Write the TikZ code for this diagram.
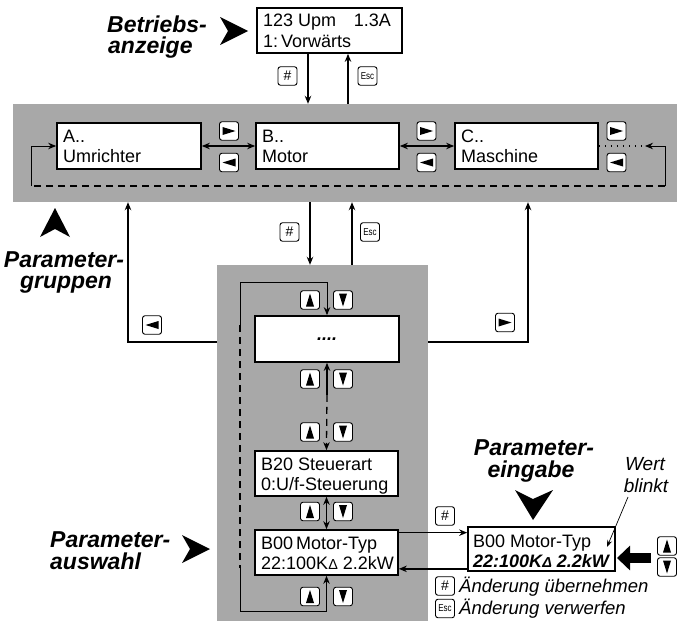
\documentclass[tikz,border=0pt]{standalone}
\usepackage{fontspec}
\setmainfont{Liberation Sans}
\usepackage{graphicx}
\usetikzlibrary{arrows.meta}
\definecolor{bandgray}{RGB}{168,168,168}
\begin{document}
\begin{tikzpicture}[x=1pt,y=-1pt,
  lcd/.style={draw, line width=1.7pt, fill=white, inner sep=0pt},
  txt/.style={inner sep=0pt, font=\fontsize{18}{20}\selectfont},
  btxt/.style={inner sep=0pt, font=\fontsize{18}{20}\selectfont\bfseries\itshape},
  lbl/.style={inner sep=0pt, font=\fontsize{23}{25}\selectfont\bfseries\itshape},
  itx/.style={inner sep=0pt, font=\fontsize{18.5}{20}\selectfont\itshape},
  conn/.style={line width=1.3pt},
  thinconn/.style={line width=1pt},
  arr/.style={-{Stealth[length=8pt,width=6.5pt]}},
  darr/.style={{Stealth[length=8pt,width=6.5pt]}-{Stealth[length=8pt,width=6.5pt]}},
  dsh/.style={dash pattern=on 7pt off 5pt},
  dotline/.style={line width=1.3pt, dash pattern=on 1.5pt off 4.5pt},
  keyb/.style={draw, line width=0.9pt, rounded corners=2.5pt, fill=white, minimum width=19pt, minimum height=18.5pt, inner sep=0pt},
  kR/.style={keyb, path picture={\fill[black, sharp corners] ([shift={(-6.5pt,4pt)}]path picture bounding box.center) -- ([shift={(6.5pt,0pt)}]path picture bounding box.center) -- ([shift={(-6.5pt,-4pt)}]path picture bounding box.center) -- cycle;}},
  kL/.style={keyb, path picture={\fill[black, sharp corners] ([shift={(6.5pt,4pt)}]path picture bounding box.center) -- ([shift={(-6.5pt,0pt)}]path picture bounding box.center) -- ([shift={(6.5pt,-4pt)}]path picture bounding box.center) -- cycle;}},
  kU/.style={keyb, path picture={\fill[black, sharp corners] ([shift={(-4pt,-6.5pt)}]path picture bounding box.center) -- ([shift={(0pt,6.5pt)}]path picture bounding box.center) -- ([shift={(4pt,-6.5pt)}]path picture bounding box.center) -- cycle;}},
  kD/.style={keyb, path picture={\fill[black, sharp corners] ([shift={(-4pt,6.5pt)}]path picture bounding box.center) -- ([shift={(0pt,-6.5pt)}]path picture bounding box.center) -- ([shift={(4pt,6.5pt)}]path picture bounding box.center) -- cycle;}},
  kH/.style={keyb, font=\fontsize{14}{14}\selectfont},
  kE/.style={keyb, font=\fontsize{10}{10}\selectfont},
]
\useasboundingbox (0,0) rectangle (686,621);

% backgrounds
\node[fill=bandgray, minimum width=664pt, minimum height=98pt, inner sep=0pt] (band) at (345,153) {};
\node[fill=bandgray, minimum width=211pt, minimum height=356pt, inner sep=0pt] (col) at (322.5,443) {};

% boxes
\node[lcd, minimum width=145pt, minimum height=45pt] (top) at (329.5,30.5) {};
\node[lcd, minimum width=144pt, minimum height=46pt] (A) at (129,146) {};
\node[lcd, minimum width=143pt, minimum height=46pt] (B) at (327.5,146) {};
\node[lcd, minimum width=143pt, minimum height=46pt] (C) at (526.5,146) {};
\node[lcd, minimum width=144pt, minimum height=46pt] (dots) at (327,339) {};
\node[lcd, minimum width=143pt, minimum height=45pt] (B20) at (326.5,473.5) {};
\node[lcd, minimum width=143pt, minimum height=45pt] (B00) at (326.5,552.5) {};
\node[lcd, minimum width=147pt, minimum height=44pt] (edit) at (541.5,549) {};

% box texts
\node[txt, anchor=base west] (top1) at (263,27) {123 Upm};
\node[txt, anchor=base east] (top1r) at (391,27) {1.3A};
\node[txt, anchor=base west] (top2) at (263,47) {1:\,Vorwärts};
\node[txt, anchor=base west] (A1) at (63,142) {A..};
\node[txt, anchor=base west] (A2) at (63,162) {Umrichter};
\node[txt, anchor=base west] (B1) at (262,142) {B..};
\node[txt, anchor=base west] (B2) at (262,162) {Motor};
\node[txt, anchor=base west] (C1) at (461,142) {C..};
\node[txt, anchor=base west] (C2) at (461,162) {Maschine};
\node[btxt] (dotst) at (dots.center) {....};
\node[txt, anchor=base west] (B201) at (261,470) {B20 Steuerart};
\node[txt, anchor=base west] (B202) at (261,490) {0:U/f-Steuerung};
\node[txt, anchor=base west] (B001) at (261,549) {B00\,Motor-Typ};
\node[txt, anchor=base west] (B002) at (261,569) {22:100K\scalebox{0.8}{Δ} 2.2kW};
\node[txt, anchor=base west] (E1) at (473,547) {B00 Motor-Typ};
\node[btxt, anchor=base west] (E2) at (473,567) {22:100K\scalebox{0.8}{Δ} 2.2kW};

% top connectors
\coordinate (t1) at ([xshift=-21.5pt]top.south);
\coordinate (t2) at ([xshift=18.5pt]top.south);
\draw[conn, arr] (t1) -- (t1 |- band.north);
\draw[conn, arr] (t2 |- band.north) -- (t2);

% band connectors
\draw[conn, darr] (A.east) -- (B.west);
\draw[conn, darr] (B.east) -- (C.west);
\coordinate (lb) at (31,186);
\coordinate (rb) at (665,186);
\coordinate (rtip) at (645,146);
\draw[thinconn, arr] (lb) -- (lb |- A.west) -- (A.west);
\draw[thinconn, arr] (rb) -- (rb |- C.east) -- (rtip);
\draw[dotline] (C.east) -- (rtip);
\draw[conn, dsh] (rb) -- (lb);

% band <-> column
\coordinate (c1) at (310,0);
\coordinate (c2) at (352,0);
\draw[conn, arr] (c1 |- band.south) -- (c1 |- col.north);
\draw[conn, arr] (c2 |- col.north) -- (c2 |- band.south);
\coordinate (gl) at (128,342);
\coordinate (gr) at (528,342);
\draw[conn, arr] (col.west |- gl) -- (gl) -- (gl |- band.south);
\draw[conn, arr] (col.east |- gr) -- (gr) -- (gr |- band.south);

% column loop
\coordinate (la) at (240,325);
\coordinate (lt) at (240,282);
\coordinate (lc) at (240,568);
\coordinate (ld) at (240,611);
\draw[thinconn, arr] (la) -- (lt) -- (lt -| dots.north) -- (dots.north);
\draw[conn, dsh] (la) -- (lc);
\draw[thinconn, arr] (lc) -- (ld) -- (ld -| B00.south) -- (B00.south);
\coordinate (m1) at ([yshift=-32pt]dots.south);
\coordinate (m2) at ([yshift=6pt]B20.north);
\draw[conn, arr] (m1) -- (dots.south);
\draw[conn, dsh] (m1) -- (m2);
\draw[conn, arr] (m2) -- (B20.north);
\draw[conn, darr] (B20.south) -- (B00.north);

% B00 <-> edit
\coordinate (e1) at ([yshift=-3.5pt]B00.north east);
\coordinate (e2) at ([yshift=7pt]B00.south east);
\draw[conn, arr] (e1) -- (e1 -| edit.west);
\draw[conn, arr] (e2 -| edit.west) -- (e2);

% thick arrow
\coordinate (th) at (651,558);
\coordinate (thtip) at (617,558);
\draw[line width=10pt, -{Triangle[length=13pt,width=24pt]}] (th) -- (thtip);

% Wert blinkt
\node[inner sep=0pt, font=\fontsize{19}{21}\selectfont\itshape, anchor=base] (wert) at (645,470) {Wert};
\node[inner sep=0pt, font=\fontsize{19}{21}\selectfont\itshape, anchor=base] (blinkt) at (646,492) {blinkt};
\coordinate (w1) at (628,497);
\coordinate (w2) at (607,547);
\draw[line width=0.7pt, -{Stealth[length=7pt,width=5pt]}] (w1) -- (w2);

% keys
\node[kH] (k1) at (287.5,76) {\#};
\node[kE] (k2) at (367.5,76) {\scalebox{0.8}[1]{Esc}};
\node[kR] (k3) at (229,131) {};
\node[kL] (k4) at (229,162.5) {};
\node[kR] (k5) at (426.5,131) {};
\node[kL] (k6) at (426.5,162.5) {};
\node[kR] (k7) at (616.5,131) {};
\node[kL] (k8) at (616.5,162.5) {};
\node[kH] (k9) at (289.5,232) {\#};
\node[kE] (k10) at (370,232) {\scalebox{0.8}[1]{Esc}};
\node[kL] (k11) at (152,325) {};
\node[kR] (k12) at (505,322.5) {};
\node[kU] (k13) at (310,300) {};
\node[kD] (k14) at (343,300) {};
\node[kU] (k15) at (310,379) {};
\node[kD] (k16) at (343,379) {};
\node[kU] (k17) at (310,432) {};
\node[kD] (k18) at (343,432) {};
\node[kU] (k19) at (310,511.5) {};
\node[kD] (k20) at (343,511.5) {};
\node[kU] (k21) at (310,596.5) {};
\node[kD] (k22) at (343,596.5) {};
\node[kH] (k23) at (445,516) {\#};
\node[kU] (k24) at (667,546) {};
\node[kD] (k25) at (667,567) {};
\node[kH] (k26) at (445,586) {\#};
\node[kE] (k27) at (445,608.5) {\scalebox{0.8}[1]{Esc}};

% legend
\node[itx, anchor=base west] (lg1) at (459,592) {Änderung übernehmen};
\node[itx, anchor=base west] (lg2) at (459,614) {Änderung verwerfen};

% labels
\node[lbl, anchor=base west] (L1a) at (107,32) {Betriebs-};
\node[lbl, anchor=base west] (L1b) at (108,53) {anzeige};
\node[lbl, anchor=base] (L2a) at (64,267) {Parameter-};
\node[lbl, anchor=base] (L2b) at (66,288) {gruppen};
\node[lbl, anchor=base west] (L3a) at (50,547) {Parameter-};
\node[lbl, anchor=base west] (L3b) at (50,569) {auswahl};
\node[lbl, anchor=base] (L4a) at (534,455) {Parameter-};
\node[lbl, anchor=base] (L4b) at (531,477) {eingabe};

% label arrowheads
\fill (220,17) -- (248,31) -- (220,45) -- (228,31) -- cycle;
\fill (40,237) -- (55,208) -- (70,237) -- (55,229) -- cycle;
\fill (515,490) -- (533,520) -- (553,490) -- (533,499) -- cycle;
\fill (182,535) -- (210,549) -- (182,563) -- (190,549) -- cycle;
\end{tikzpicture}
\end{document}
